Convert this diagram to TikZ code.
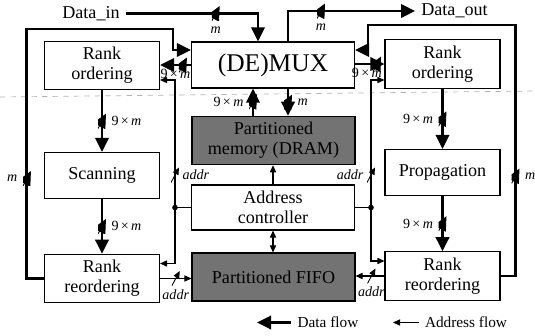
\documentclass[tikz,border=0pt]{standalone}
\usepackage{fontspec}
\setmainfont{Liberation Serif}
\usetikzlibrary{arrows.meta}

\tikzset{
  blk/.style={draw, line width=0.6pt, minimum width=2.3cm, minimum height=0.92cm, align=center, font=\fontsize{10.3}{11.5}\selectfont},
  wide/.style={blk, minimum width=3.26cm},
  dark/.style={wide, fill=black!55},
  data/.style={line width=1.7pt, -{Triangle[length=8pt,width=7.5pt]}},
  addr/.style={line width=0.6pt, ->},
  busmark/.style={inner sep=0pt, minimum width=4.5pt, minimum height=8.5pt,
    path picture={\draw[line width=0.5pt] (path picture bounding box.south west) -- (path picture bounding box.north east);}},
  lbl/.style={font=\fontsize{8}{9}\selectfont, inner sep=1.5pt}
}

\begin{document}
\begin{tikzpicture}[>={Triangle[length=4pt,width=3.5pt]}, every node/.style={font=\fontsize{10.3}{12}\selectfont}]
  \useasboundingbox (0,0) rectangle (10.7,-6.72);
  \draw[gray!60, dashed, line width=0.4pt] (0,-1.94) -- (10.7,-1.82);

  \node[wide, font=\fontsize{14.5}{16}\selectfont] (demux) at (5.46,-1.30) {(DE)MUX};
  \node[blk] (rankL) at (2.04,-1.31) {Rank\\ordering};
  \node[blk] (rankR) at (8.85,-1.28) {Rank\\ordering};
  \node[blk] (scan) at (2.04,-3.51) {Scanning};
  \node[blk] (prop) at (8.85,-3.45) {Propagation};
  \node[blk] (rerankL) at (2.04,-5.57) {Rank\\reordering};
  \node[blk] (rerankR) at (8.85,-5.52) {Rank\\reordering};
  \node[dark, minimum height=0.82cm] (mem) at (5.47,-2.81) {Partitioned\\memory (DRAM)};
  \node[wide, minimum height=0.9cm] (addrc) at (5.46,-4.15) {Address\\controller};
  \node[dark, minimum height=0.96cm] (fifo) at (5.47,-5.54) {Partitioned FIFO};

  \node (datain) at (1.82,-0.27) {Data\_in};
  \node (dataout) at (9.09,-0.22) {Data\_out};
  \node[font=\fontsize{8.7}{10}\selectfont] (legd) at (6.56,-6.45) {Data flow};
  \node[font=\fontsize{8.7}{10}\selectfont] (lega) at (9.32,-6.45) {Address flow};
  \coordinate (legdend) at (5.14,-6.45);
  \coordinate (legaend) at (7.86,-6.45);
  \coordinate (jl) at (3.5,-4.15);
  \coordinate (jr) at (7.42,-4.15);

  % data flow
  \draw[data] (datain.east) -| node[busmark, pos=0.34, label={[lbl]below:\textit{m}}] {} ([xshift=-0.3cm]demux.north);
  \draw[data] ([xshift=0.3cm]demux.north) |- node[busmark, pos=0.63, label={[lbl]below:\textit{m}}] {} (dataout.west);
  \draw[data] (demux.west) -- node[busmark, pos=0.26] {} node[lbl, below, pos=0.5] {9\,×\,\textit{m}} (demux.west -| rankL.east);
  \draw[data] (demux.east |- rankR.west) -- node[busmark, pos=0.75] {} node[lbl, below, pos=0.4] {9\,×\,\textit{m}} (rankR.west);
  \draw[data] (rankL) -- node[busmark, label={[lbl]right:9\,×\,\textit{m}}] {} (scan);
  \draw[data] (scan) -- node[busmark, label={[lbl]right:9\,×\,\textit{m}}] {} (rerankL);
  \draw[data] (rankR) -- node[busmark, label={[lbl]left:9\,×\,\textit{m}}] {} (prop);
  \draw[data] (prop) -- node[busmark, label={[lbl]left:9\,×\,\textit{m}}] {} (rerankR);
  \draw[data] ([xshift=-0.41cm]mem.north) -- node[busmark, pos=0.52, label={[lbl]left:9\,×\,\textit{m}}] {} ([xshift=-0.41cm]mem.north |- demux.south);
  \draw[data] ([xshift=0.3cm]demux.south) -- node[busmark, label={[lbl]right:\textit{m}}] {} ([xshift=0.3cm]demux.south |- mem.north);
  \draw[data] (rerankL.west) -- ++(-0.34,0) -- ++(0,2.0) node[busmark, label={[lbl]left:\textit{m}}] {} |- (3.46,-0.58) |- ([yshift=0.3cm]demux.west);
  \draw[data] (rerankR.east) -- ++(0.3,0) -- ++(0,2.0) node[busmark, label={[lbl]right:\textit{m}}] {} |- (7.36,-0.5) |- ([yshift=0.3cm]demux.east);

  % address flow
  \draw[line width=0.6pt] (addrc.west) -- (jl);
  \draw[line width=0.6pt] (addrc.east) -- (jr);
  \fill (jl) circle (1.6pt);
  \fill (jr) circle (1.6pt);
  \draw[addr] (jl) -- ++(0,0.65) node[busmark, label={[lbl]right:\textit{addr}}] {} |- ([yshift=-0.29cm]rankL.east);
  \draw[addr] (jl) |- ([yshift=0.3cm]rerankL.east);
  \draw[addr] (jr) -- ++(0,0.65) node[busmark, label={[lbl]left:\textit{addr}}] {} |- ([yshift=-0.32cm]rankR.west);
  \draw[addr] (jr) |- ([yshift=0.3cm]rerankR.west);
  \draw[addr] (rerankL.east) -- node[busmark, pos=0.5, label={[lbl]below:\textit{addr}}] {} (rerankL.east -| fifo.west);
  \draw[addr] (rerankR.west) -- node[busmark, pos=0.45, label={[lbl]below:\textit{addr}}] {} (rerankR.west -| fifo.east);
  \draw[addr] (addrc.north) -- (addrc.north |- mem.south);
  \draw[addr, <->] (addrc.south) -- (addrc.south |- fifo.north);

  % legend
  \draw[data] (legd.west) -- (legdend);
  \draw[addr] (lega.west) -- (legaend);
\end{tikzpicture}
\end{document}
